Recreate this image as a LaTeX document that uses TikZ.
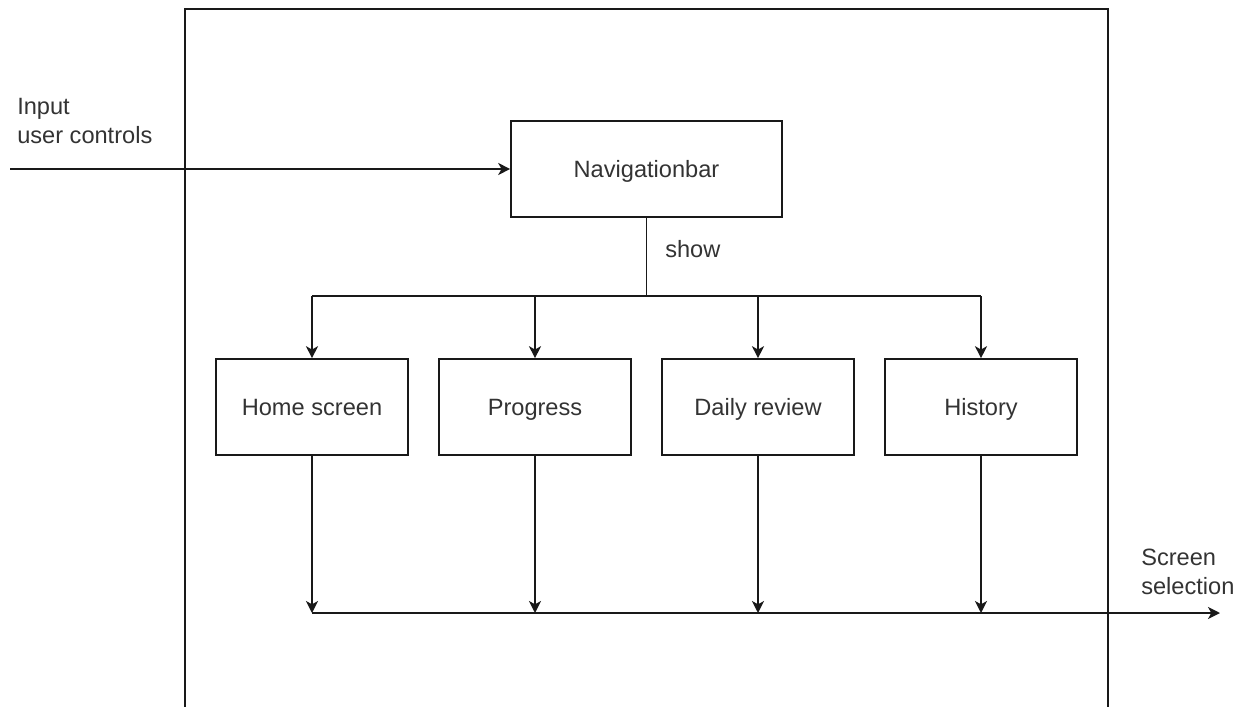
\documentclass[tikz,border=0pt]{standalone}
\usepackage{fontspec}
\setmainfont{Liberation Sans}
\usetikzlibrary{arrows.meta}
\begin{document}
\begin{tikzpicture}[x=0.75pt,y=-0.75pt,
  line/.style={line width=1.2pt, draw=black!90},
  arr/.style={line, -{Stealth[length=9pt,width=9pt,inset=2.5pt]}},
  txt/.style={font=\fontsize{17.7}{21.75}\selectfont, text=black!80},
  box/.style={txt, draw=black!90, line width=1.2pt, minimum width=144pt, minimum height=72pt, inner sep=0pt, text height=12.7pt, text depth=0pt},
  lbl/.style={txt, align=left, inner sep=0pt, anchor=west}]
\useasboundingbox (0,0) rectangle (1247,707);
\draw[line] (185,707) -- (185,9) -- (1108,9) -- (1108,707);
\node[box, minimum width=203.25pt] (nav) at (646.5,169) {Navigationbar};
\node[box] (home) at (312,407) {Home screen};
\node[box] (prog) at (535,407) {Progress};
\node[box] (daily) at (758,407) {Daily review};
\node[box] (hist) at (981,407) {History};
\coordinate (in) at (10,169);
\coordinate (split) at (646.5,296);
\coordinate (bl) at (312,613);
\coordinate (out) at (1220,613);
\node[lbl] (inlbl) at (17,120.5) {Input\\user controls};
\node[lbl] (show) at (665,249) {show};
\node[lbl] (outlbl) at (1141,572) {Screen\\selection};
\draw[arr] (in) -- (nav.west);
\draw[line] (nav.south) -- (split);
\draw[line] (home.north |- split) -- (hist.north |- split);
\foreach \n in {home,prog,daily,hist} {
  \draw[arr] (\n.north |- split) -- (\n.north);
  \draw[arr] (\n.south) -- (\n.south |- bl);
}
\draw[arr] (bl) -- (out);
\end{tikzpicture}
\end{document}
